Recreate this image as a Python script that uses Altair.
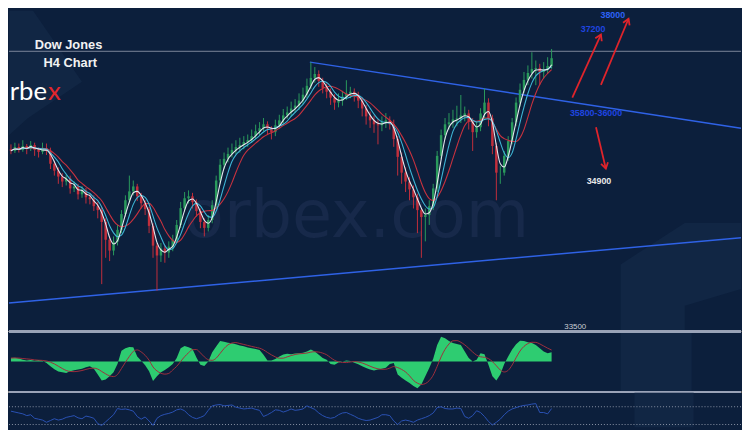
import altair as alt
import pandas as pd

BG = "#0c1f3c"
GREEN = "#2a9a5c"
RED = "#c22f3c"
SHADE = "#112644"

# ---- price data (H4 candles) ----
close = [35600,35648,35612,35660,35624,35672,35612,35588,35636,35600,
         35444,35360,35288,35228,35264,35144,35168,35072,35120,35036,
         35012,34928,34880,34736,34520,34388,34496,34640,34832,35000,
         35108,35168,35048,34964,34892,34688,34448,34328,34412,34364,
         34436,34520,34700,34904,35024,35048,34976,34868,34736,34664,
         34760,34940,35240,35432,35504,35564,35612,35648,35672,35708,
         35732,35780,35840,35876,35924,35876,35828,35912,35972,36032,
         36068,36116,36152,36212,36284,36392,36488,36536,36452,36368,
         36320,36248,36188,36212,36260,36296,36320,36284,36212,36116,
         36020,35972,35924,35912,35948,35972,35924,35744,35528,35336,
         35228,35132,35036,34880,34796,34820,34928,35144,35540,35792,
         35924,35948,35984,35996,36032,36056,35960,35828,35888,36056,
         36188,35996,35660,35336,35336,35540,35720,35948,36188,36344,
         36464,36548,36596,36608,36560,36584,36632,36728]
high = [35680,35700,35690,35730,35684,35720,35700,35640,35700,35690,
        35640,35480,35400,35330,35310,35300,35230,35200,35170,35150,
        35080,35060,34980,34920,34780,34560,34560,34700,34880,35060,
        35300,35240,35200,35090,35000,34920,34720,34480,34480,34450,
        34500,34580,34760,34980,35100,35120,35090,35010,34900,34780,
        34820,35000,35300,35500,35580,35640,35690,35730,35760,35780,
        35800,35860,35920,35950,36000,35960,35900,35980,36040,36110,
        36140,36200,36230,36300,36370,36480,36680,36620,36580,36490,
        36420,36360,36290,36300,36330,36460,36380,36360,36320,36250,
        36160,36080,36030,35990,36020,36060,36020,35980,35780,35580,
        35400,35280,35180,35080,34900,34900,35000,35200,35600,35860,
        36000,36060,36100,36150,36280,36140,36100,36000,35960,36120,
        36360,36240,36040,35700,35420,35600,35780,36000,36250,36420,
        36560,36640,36800,36700,36660,36680,36740,36840]
low = [35560,35576,35580,35590,35560,35600,35540,35520,35560,35550,
       35380,35300,35200,35160,35180,35080,35100,35010,35030,34960,
       34950,34870,34780,33980,34300,34260,34330,34450,34600,34800,
       34960,35060,34990,34900,34820,34600,34300,33900,34250,34240,
       34300,34380,34480,34660,34860,34960,34900,34800,34660,34560,
       34620,34720,34900,35200,35380,35460,35520,35560,35580,35620,
       35650,35700,35740,35790,35840,35800,35740,35780,35880,35930,
       35990,36020,36060,36100,36170,36240,36350,36430,36380,36300,
       36240,36160,36100,36130,36150,36220,36240,36200,36120,36020,
       35920,35880,35820,35680,35840,35880,35860,35650,35300,35200,
       35100,35000,34900,34600,34300,34500,34700,34880,35100,35500,
       35740,35860,35880,35900,35940,35960,35860,35600,35760,35840,
       36000,35900,35560,35000,35200,35300,35480,35680,35900,36140,
       36300,36400,36480,36400,36400,36480,36540,36600]
first_open = 35620

# ---- MACD histogram ----
macd = [10,11,9,5,3,4,2,4,2,-5,
        -15,-24,-31,-33,-35,-30,-27,-25,-22,-18,
        -15,-22,-40,-58,-55,-45,-33,-8,32,40,
        44,43,15,2,-12,-30,-60,-45,-33,-26,
        -18,-8,10,40,47,43,38,12,-10,-14,
        0,28,45,62,60,57,55,52,48,46,
        42,40,38,35,20,3,3,7,15,21,
        23,22,24,25,26,30,36,30,20,10,
        5,-8,-10,-3,0,3,1,-4,-9,-15,
        -20,-25,-28,-25,-22,-19,-8,-5,-40,-50,
        -58,-66,-75,-82,-70,-45,-20,8,50,75,
        70,62,56,53,50,30,10,0,5,25,
        22,-10,-45,-58,-40,-8,15,36,52,63,
        62,58,56,50,40,30,25,28]

# ---- RSI ----
rsi = [60,58,56,54,50,52,44,42,40,35,
       39,43,40,42,46,48,50,45,43,49,
       47,44,32,28,36,44,52,66,64,65,
       63,60,48,42,47,38,28,44,50,53,
       55,58,63,65,61,52,46,43,46,50,
       62,72,74,75,72,73,74,69,67,65,
       66,67,64,62,48,52,57,63,62,58,
       61,65,62,63,65,72,68,64,56,50,
       46,44,46,52,56,57,53,49,44,41,
       39,40,43,46,52,52,50,38,30,38,
       40,38,35,40,43,46,50,56,68,70,
       66,65,65,67,66,48,44,50,61,57,
       48,37,29,35,42,52,60,65,68,71,
       73,74,76,77,57,57,54,66]

# ---- annotation data ----
trend_i = [75.75, 185, -0.5, 185]
trend_p = [36680, 35876, 33750, 34544]
trend_id = ["down", "down", "up", "up"]
hline_price = [36812]

arrow_i = [142.25, 149.5, 148.25]
arrow_p = [36248, 36404, 35888]
arrow_i2 = [149.5, 156.5, 150.75]
arrow_p2 = [37016, 37208, 35384]
arrow_ang = [24.4, 22.7, 166.6]

# faint background panels (index, top price, bottom price)
shade1_i = [-0.5, 4.25, 18]
shade1_top = [37400, 37400, 36440]
shade1_bot = [35792, 35996, 36440]
shade2_i = [154.5, 170.75, 170.75, 185]
shade2_top = [34220, 34724, 34724, 34724]
shade2_bot = [33300, 33300, 33716, 33920]

n = len(close)
opens = [first_open] + close[:-1]
df = pd.DataFrame({
    "i": list(range(n)), "open": opens, "close": close, "high": high, "low": low,
    "macd": macd, "rsi": rsi,
})
df["dir"] = ["up" if c >= o else "down" for o, c in zip(opens, close)]

XS = alt.Scale(domain=[-0.5, 185], nice=False, zero=False)
PS = alt.Scale(domain=[33416, 37304], nice=False, zero=False)
X = alt.X("i:Q", scale=XS, axis=None)
XI = alt.X("i:Q", scale=XS, axis=None)
YP = alt.Y("p:Q", scale=PS, axis=None)

base = alt.Chart(df)

shade1 = alt.Chart(pd.DataFrame({"i": shade1_i, "t": shade1_top, "b": shade1_bot})).mark_area(
    color=SHADE, clip=True).encode(x=XI, y=alt.Y("t:Q", scale=PS, axis=None), y2="b:Q")
shade2 = alt.Chart(pd.DataFrame({"i": shade2_i, "t": shade2_top, "b": shade2_bot})).mark_area(
    color=SHADE, clip=True).encode(x=XI, y=alt.Y("t:Q", scale=PS, axis=None), y2="b:Q")

# watermark
wm = alt.Chart(pd.DataFrame({"i": [87.6], "p": [34556], "t": ["orbex.com"]})).mark_text(
    font="DejaVu Sans", fontSize=66, color="#17294a", align="center", baseline="alphabetic", clip=True
).encode(x=XI, y=YP, text="t:N")

hline = alt.Chart(pd.DataFrame({"p": hline_price})).mark_rule(color="#7d869a", strokeWidth=1).encode(y=YP)

col = alt.Color("dir:N", scale=alt.Scale(domain=["up", "down"], range=[GREEN, RED]), legend=None)
wick = base.mark_rule(strokeWidth=1).encode(
    x=X, y=alt.Y("low:Q", scale=PS, axis=None), y2="high:Q", color=col)
body = base.mark_rule(strokeWidth=2.5).encode(
    x=X, y=alt.Y("open:Q", scale=PS, axis=None), y2="close:Q", color=col)

def ma(win, color, w):
    return base.transform_window(
        m="mean(close)", frame=[-(win - 1), 0], sort=[alt.SortField("i")]
    ).mark_line(color=color, strokeWidth=w, interpolate="monotone").encode(
        x=X, y=alt.Y("m:Q", scale=PS, axis=None))

ma_red = ma(8, "#c8323f", 1.1)
ma_cyan = ma(5, "#3fb6d6", 1.1)
ma_white = ma(3, "#e6e9ef", 1.1)

trend = alt.Chart(pd.DataFrame({"i": trend_i, "p": trend_p, "id": trend_id})).mark_line(
    color="#2f62e6", strokeWidth=1.5, clip=True).encode(x=XI, y=YP, detail="id:N")

arr = pd.DataFrame({"i": arrow_i, "p": arrow_p, "i2": arrow_i2, "p2": arrow_p2, "ang": arrow_ang})
arrow_lines = alt.Chart(arr).mark_rule(color="#e0242b", strokeWidth=1.8).encode(
    x=XI, y=YP, x2="i2:Q", y2="p2:Q")
arrow_heads = alt.Chart(arr).mark_point(
    shape="M -0.55 0.9 L 0 0 L 0.55 0.9", filled=False, color="#e0242b", strokeWidth=1.8, size=170, opacity=1
).encode(x=alt.X("i2:Q", scale=XS, axis=None), y=alt.Y("p2:Q", scale=PS, axis=None),
         angle=alt.Angle("ang:Q", scale=None))

def label(i, p, t, color, size, weight="bold", align="center", font="Liberation Sans", base_="middle"):
    return alt.Chart(pd.DataFrame({"i": [i], "p": [p], "t": [t]})).mark_text(
        color=color, fontSize=size, fontWeight=weight, align=align, baseline=base_, font=font, clip=True
    ).encode(x=XI, y=YP, text="t:N")

texts = [
    label(6, 36884, "Dow Jones", "#f2f2f2", 13, align="left"),
    label(8.25, 36668, "H4 Chart", "#f2f2f2", 13, align="left"),
    label(152.5, 37250, "38000", "#2c62f5", 9),
    label(147.5, 37088, "37200", "#1f45e0", 9),
    label(148.25, 36056, "35800-36000", "#1f45e0", 9),
    label(149, 35228, "34900", "#e8e8e8", 9),
    label(143, 33452, "33500", "#c8ccd4", 8, weight="normal"),
    label(-0.3, 36224, "rbe", "#ffffff", 26, weight="normal", align="left", font="Lato", base_="alphabetic"),
    label(9.4, 36224, "x", "#e3262d", 26, weight="normal", align="left", font="Lato", base_="alphabetic"),
]

main = alt.layer(shade1, shade2, wm, hline, trend, wick, body, ma_red, ma_cyan, ma_white,
                 arrow_lines, arrow_heads, *texts).properties(width=742, height=324)

# ---- MACD panel ----
MS = alt.Scale(domain=[-95, 94], nice=False, zero=False)
band_macd = alt.Chart(pd.DataFrame({"i": [154.5], "i2": [172.5]})).mark_rect(color=SHADE).encode(
    x=XI, x2="i2:Q")
hist = base.mark_area(color="#2ecc71", opacity=1).encode(
    x=X, y=alt.Y("macd:Q", scale=MS, axis=None), y2=alt.datum(0))
signal = base.transform_window(
    s="mean(macd)", frame=[-4, 0], sort=[alt.SortField("i")]
).mark_line(color="#9e2f3d", strokeWidth=1, interpolate="monotone").encode(
    x=X, y=alt.Y("s:Q", scale=MS, axis=None))
sep_top = base.mark_rule(color="#9aa3b8", strokeWidth=2).encode(y=alt.value(1.3))
sep_bot = base.mark_rule(color="#9aa3b8", strokeWidth=2).encode(y=alt.value(62.3))
macd_panel = alt.layer(band_macd, hist, signal, sep_top, sep_bot).properties(width=742, height=63)

# ---- RSI panel ----
RS = alt.Scale(domain=[24, 101.8], nice=False, zero=False)
band_rsi = alt.Chart(pd.DataFrame({"i": [158], "i2": [173]})).mark_rect(color=SHADE).encode(
    x=XI, x2="i2:Q")
levels = alt.Chart(pd.DataFrame({"v": [70, 30]})).mark_rule(
    color="#8a93a6", strokeWidth=1, strokeDash=[1, 2]).encode(y=alt.Y("v:Q", scale=RS, axis=None))
rsi_line = base.mark_line(color="#2b52b5", strokeWidth=1, clip=True).encode(
    x=X, y=alt.Y("rsi:Q", scale=RS, axis=None))
rsi_panel = alt.layer(band_rsi, levels, rsi_line).properties(width=742, height=35)

chart = alt.vconcat(main, macd_panel, rsi_panel, spacing=0, bounds="flush").properties(
    padding=0
).configure(background=BG).configure_view(stroke=None)

chart.save("out.html", embed_options={"renderer": "svg", "actions": False})
